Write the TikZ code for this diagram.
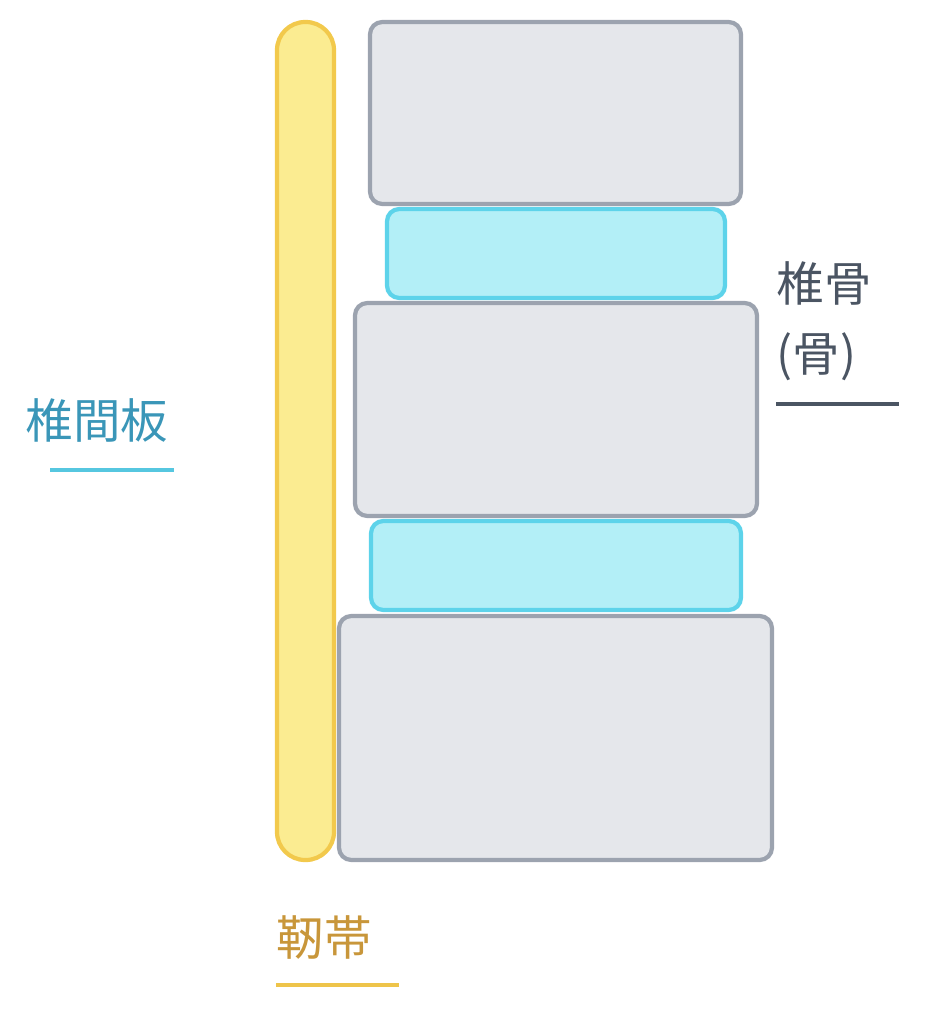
\documentclass[tikz,border=0pt]{standalone}
\usepackage{fontspec}
\newfontfamily\cjk{Noto Sans CJK JP}
\definecolor{boneFill}{HTML}{E5E7EB}
\definecolor{boneLine}{HTML}{9CA3AF}
\definecolor{discFill}{HTML}{B3EFF7}
\definecolor{discLine}{HTML}{5DD3EA}
\definecolor{ligFill}{HTML}{FBEC91}
\definecolor{ligLine}{HTML}{F2C94C}
\definecolor{boneText}{HTML}{4B5563}
\definecolor{discText}{HTML}{3A96B8}
\definecolor{ligText}{HTML}{C8963A}
\tikzset{
  bone/.style={draw=boneLine, fill=boneFill, line width=1.2pt, rounded corners=3.5pt},
  disc/.style={draw=discLine, fill=discFill, line width=1.2pt, rounded corners=3.5pt},
  label/.style={font=\cjk\fontsize{13.5}{17}\selectfont, inner sep=0pt, anchor=west}
}
\begin{document}
\begin{tikzpicture}[x=0.01cm, y=-0.01cm]
  \useasboundingbox (0,0) rectangle (945,1024);
  % ligament
  \draw [draw=ligLine, fill=ligFill, line width=1.2pt, rounded corners=8pt] (277,22) rectangle (334,860);
  % vertebrae and discs
  \draw [bone] (370,22) rectangle (741,204);
  \draw [disc] (387,209) rectangle (725,298);
  \draw [bone] (355,303) rectangle (757,516);
  \draw [disc] (371,521) rectangle (741,610);
  \draw [bone] (339,616) rectangle (772,860);
  % labels
  \node [label, text=boneText] (boneA) at (776,283) {椎骨};
  \node [label, text=boneText] (boneB) at (776,357) {(骨)};
  \draw [boneText, line width=1.2pt] (776,404) -- (899,404);
  \node [label, text=discText] (disc) at (25,420) {椎間板};
  \draw [discLine!80!discText, line width=1.2pt] (50,470) -- (174,470);
  \node [label, text=ligText] (lig) at (276,937) {靭帯};
  \draw [ligLine!90!ligText, line width=1.2pt] (276,985) -- (399,985);
\end{tikzpicture}
\end{document}
